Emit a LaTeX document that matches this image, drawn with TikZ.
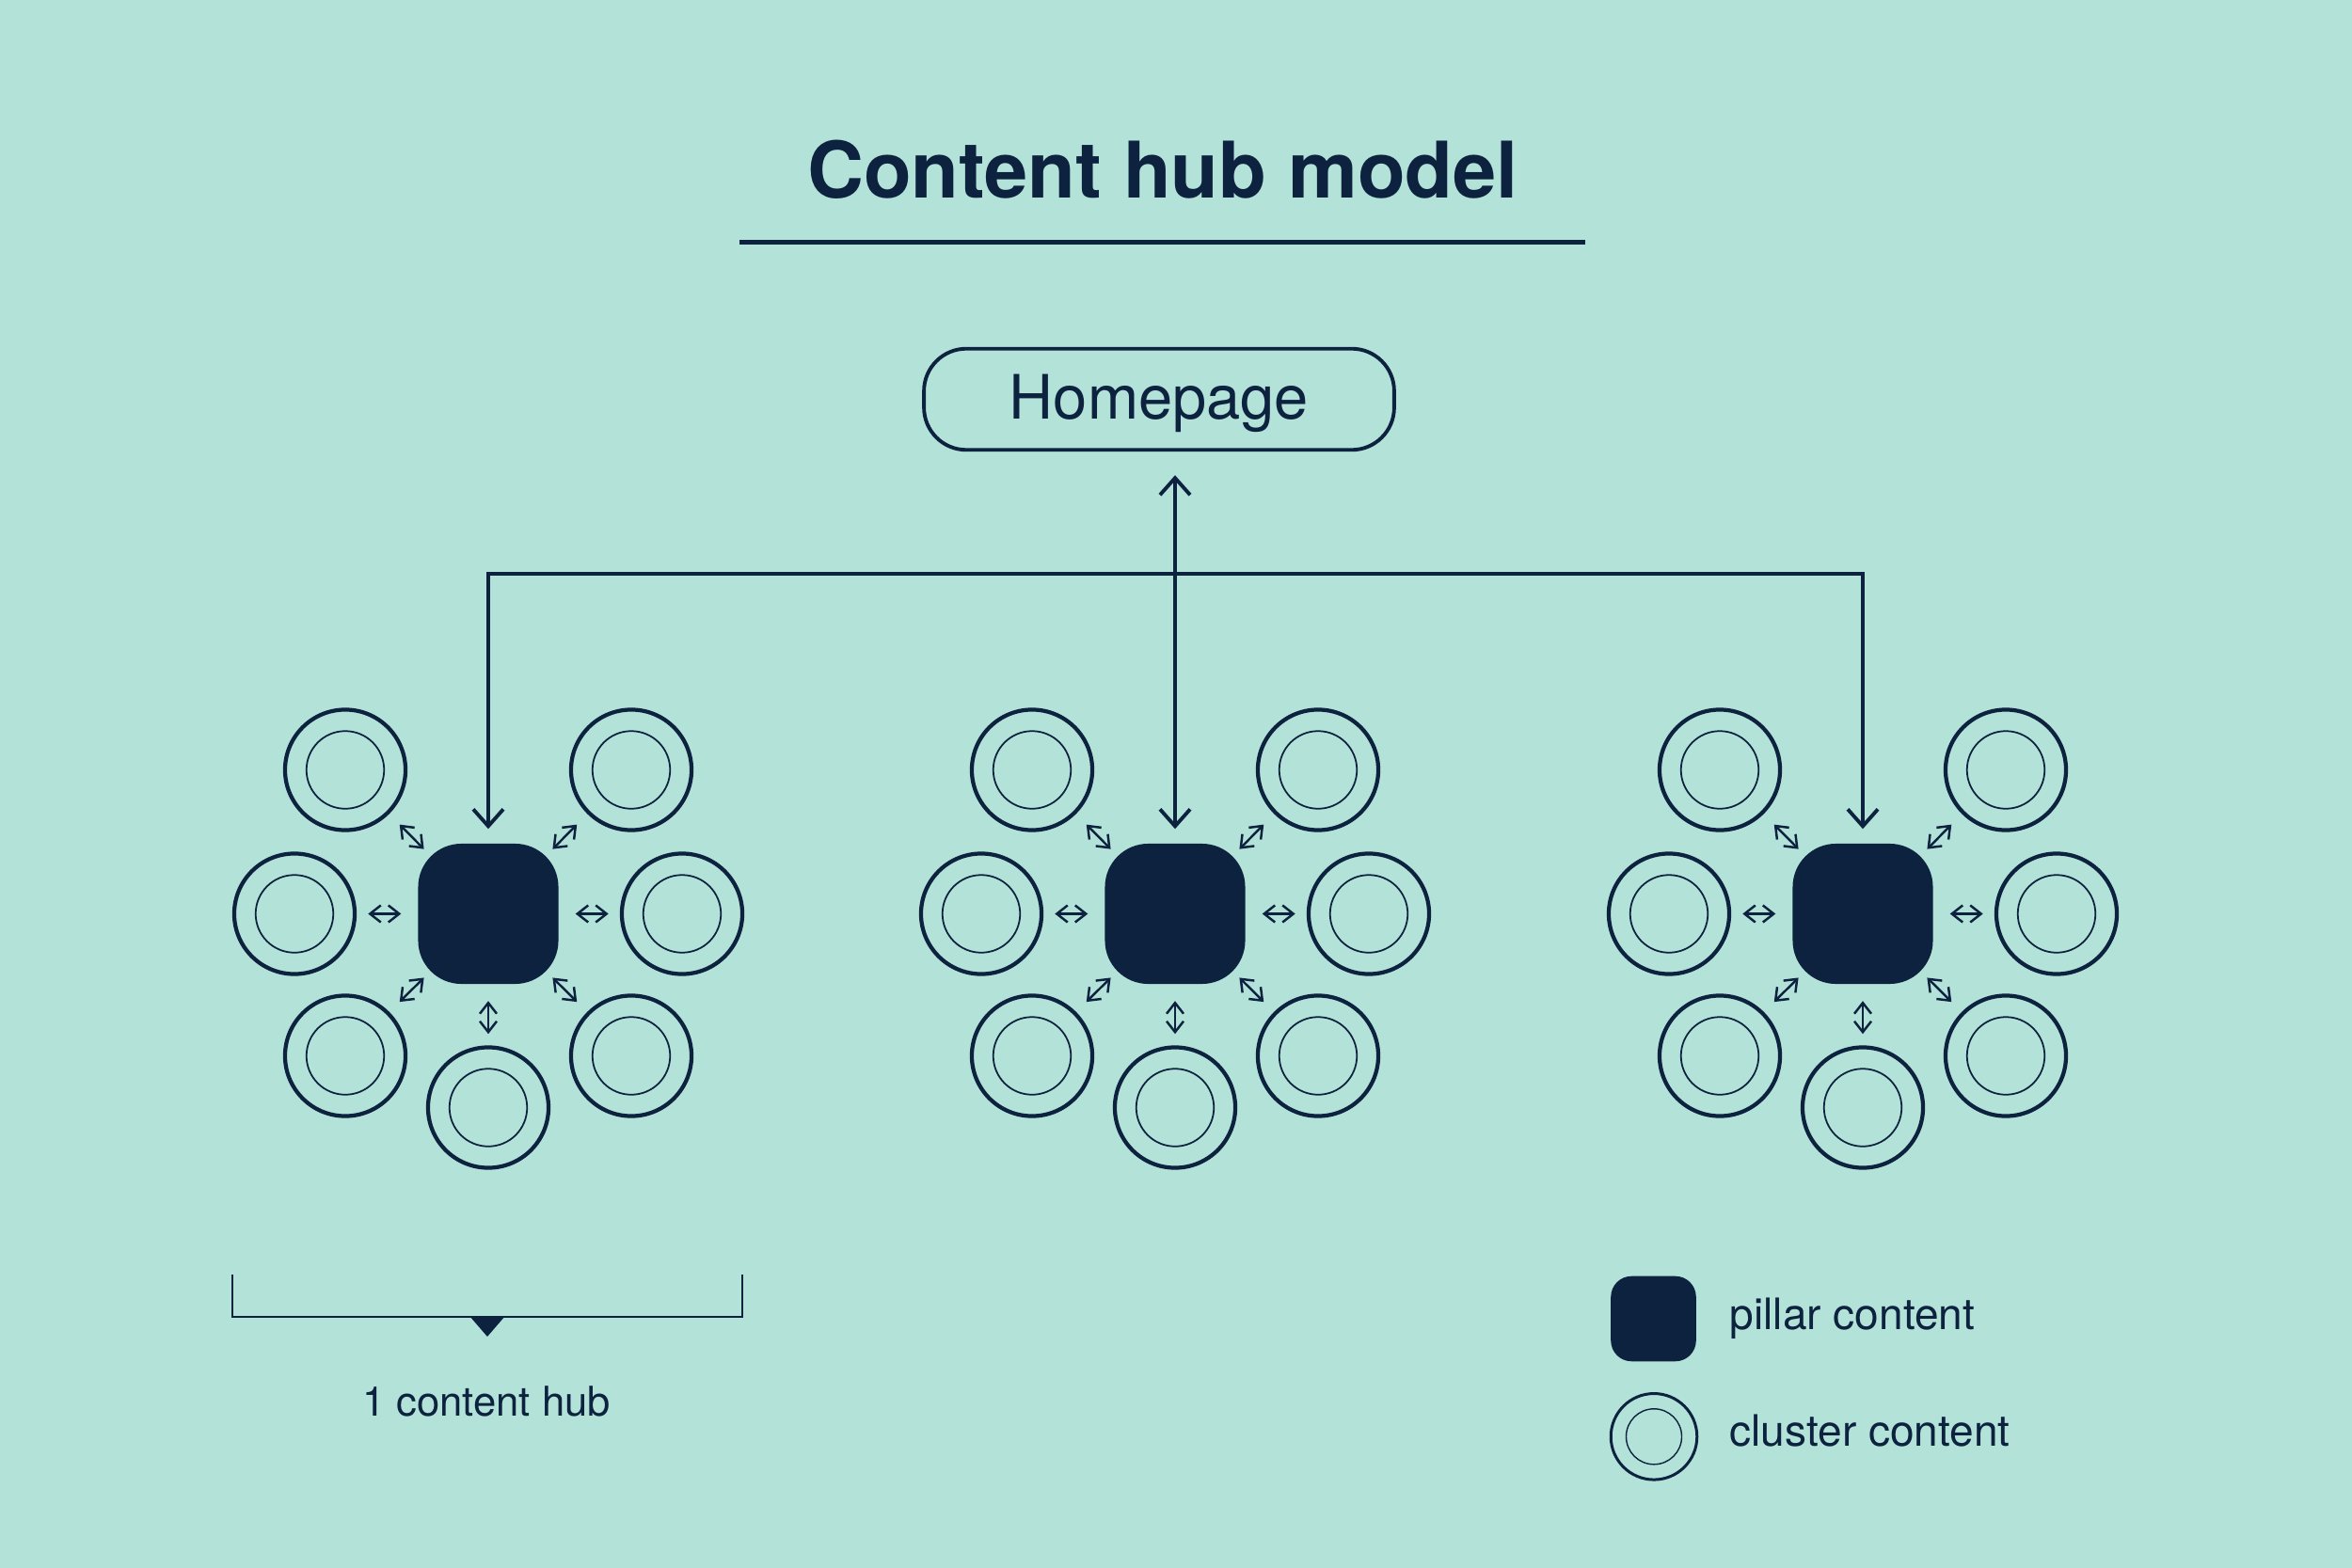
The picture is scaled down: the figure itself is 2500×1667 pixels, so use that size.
\documentclass[tikz,border=0pt]{standalone}
\usepackage{fontspec}
\setmainfont{TeX Gyre Heros}
\usetikzlibrary{arrows.meta,calc}
\definecolor{bgc}{RGB}{179,226,216}
\definecolor{navy}{RGB}{13,34,63}
\begin{document}
\begin{tikzpicture}[x=0.01cm,y=-0.01cm, line join=miter,
  pillar/.style={rectangle, fill=navy, minimum size=1.49cm, inner sep=0pt, rounded corners=4.6mm},
  clout/.style={circle, draw=navy, line width=1.2pt, minimum size=1.28cm, inner sep=0pt},
  clin/.style={circle, draw=navy, line width=0.5pt, minimum size=0.825cm, inner sep=0pt},
  conn/.style={draw=navy, line width=1.1pt},
  arrmain/.style={conn, -{Straight Barb[length=1.8mm,width=3.2mm]}},
  smallarr/.style={draw=navy, line width=0.7pt, {Straight Barb[length=1.15mm,width=1.8mm]}-{Straight Barb[length=1.15mm,width=1.8mm]}},
  txt/.style={text=navy, inner sep=0pt},
]
\useasboundingbox (0,0) rectangle (2500,1667);
\fill[bgc] (0,0) rectangle (2500,1667);

% title
\node[txt, anchor=base, font=\fontsize{23.6}{28}\selectfont\bfseries] (title) at (1236,210.7) {Content hub model};
\draw[navy, line width=1.2pt] (786,257.5) -- (1685,257.5);

% homepage
\node[draw=navy, line width=1.1pt, rounded corners=4.5mm, minimum width=4.995cm, minimum height=1.075cm,
      inner sep=0pt, text=navy, text height=4.5mm, text depth=0.4mm,
      font=\fontsize{18.5}{22}\selectfont] (home) at (1232,424.5) {Homepage};

% clusters
\foreach \k/\cx in {1/519, 2/1249, 3/1980}{
  \node[pillar] (p\k) at (\cx,971.5) {};
  \foreach \n/\dx/\dy in {a/-152/-153, b/152/-153, c/-206/0, d/206/0, e/-152/151, f/152/151, g/0/206}{
    \node[clout] (c\k\n) at ([shift={(\dx,\dy)}]p\k) {};
    \node[clin] (i\k\n) at (c\k\n) {};
    \draw[smallarr] ($(p\k)!0.45!(c\k\n)$) -- ($(p\k)!0.62!(c\k\n)$);
  }
}

% connectors
\coordinate (j1) at (519,610);
\coordinate (j2) at (1249,610);
\coordinate (j3) at (1980,610);
\draw[arrmain, shorten >=1.5mm] (j2) -- (j1) -- (p1.north);
\draw[arrmain, shorten >=1.5mm] (j2) -- (j3) -- (p3.north);
\draw[conn, {Straight Barb[length=1.8mm,width=3.2mm]}-{Straight Barb[length=1.8mm,width=3.2mm]},
      shorten <=2.5mm, shorten >=1.5mm] (home.south -| p2) -- (p2.north);

% bracket
\draw[navy, line width=0.8pt] (247,1355) -- (247,1400) -- (789,1400) -- (789,1355);
\fill[navy] (499,1399) -- (537,1399) -- (518,1421) -- cycle;
\node[txt, anchor=base, font=\fontsize{12.4}{15}\selectfont] (hub) at (517,1505) {1 content hub};

% legend
\node[pillar, minimum size=0.905cm, rounded corners=2.2mm] (lp) at (1757.5,1402) {};
\node[clout, line width=0.85pt, minimum size=0.915cm] (lc) at (1758,1527.3) {};
\node[clin, line width=0.4pt, minimum size=0.59cm] (lci) at (lc) {};
\node[txt, anchor=base west, font=\fontsize{13.1}{16}\selectfont] (lpt) at (1838,1413.3) {pillar content};
\node[txt, anchor=base west, font=\fontsize{13.1}{16}\selectfont] (lct) at (1838,1537.3) {cluster content};
\end{tikzpicture}
\end{document}
